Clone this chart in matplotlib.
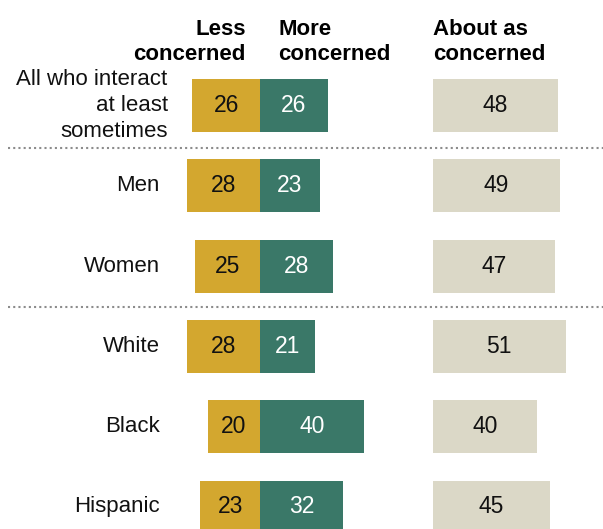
import matplotlib
matplotlib.use("Agg")
import matplotlib.pyplot as plt
import numpy as np

plt.rcParams['font.family'] = ['Liberation Sans', 'DejaVu Sans']

categories = ["All who interact\nat least\nsometimes", "Men", "Women",
              "White", "Black", "Hispanic"]
less = [26, 28, 25, 28, 20, 23]
more = [26, 23, 28, 21, 40, 32]
about = [48, 49, 47, 51, 40, 45]

gold = "#D3A72F"
green = "#3A7868"
beige = "#DBD8C7"

# layout in data units (1 unit = 1 percentage point horizontally, 1 row vertically)
about_start = 66.5
bar_h = 0.66

fig = plt.figure(figsize=(6.03, 5.29), dpi=100)
ax = fig.add_axes([0, 0, 1, 1])
ax.set_xlim(-100, 131.9)
ax.set_ylim(5.274, -1.314)
ax.axis('off')

y = np.arange(len(categories))
ax.barh(y, [-v for v in less], height=bar_h, color=gold)
ax.barh(y, more, height=bar_h, color=green)
ax.barh(y, about, left=about_start, height=bar_h, color=beige)

fs = 16
for i in range(len(categories)):
    ax.text(-less[i] / 2, y[i], str(less[i]), ha='center', va='center',
            fontsize=fs + 0.5, color='#111111')
    ax.text(more[i] / 2, y[i], str(more[i]), ha='center', va='center',
            fontsize=fs + 0.5, color='white')
    ax.text(about_start + about[i] / 2, y[i], str(about[i]), ha='center',
            va='center', fontsize=fs + 0.5, color='#111111')
    lx = -35.5 if i == 0 else -38.5
    ax.text(lx, y[i], categories[i], ha='right', va='center', fontsize=fs,
            color='#111111', linespacing=1.3)

# column headers
hy = -0.51
ax.text(-5.5, hy, "Less\nconcerned", ha='right', va='bottom', fontsize=fs,
        fontweight='bold', linespacing=1.25)
ax.text(7, hy, "More\nconcerned", ha='left', va='bottom', fontsize=fs,
        fontweight='bold', linespacing=1.25)
ax.text(about_start, hy, "About as\nconcerned", ha='left', va='bottom',
        fontsize=fs, fontweight='bold', linespacing=1.25)

# dotted separators
for sy in [0.53, 2.51]:
    ax.plot([-97, 131.9], [sy, sy], color='#8c8c8c', lw=1.5,
            linestyle=(0, (1, 1.5)))

plt.savefig("out.png", dpi=100)
